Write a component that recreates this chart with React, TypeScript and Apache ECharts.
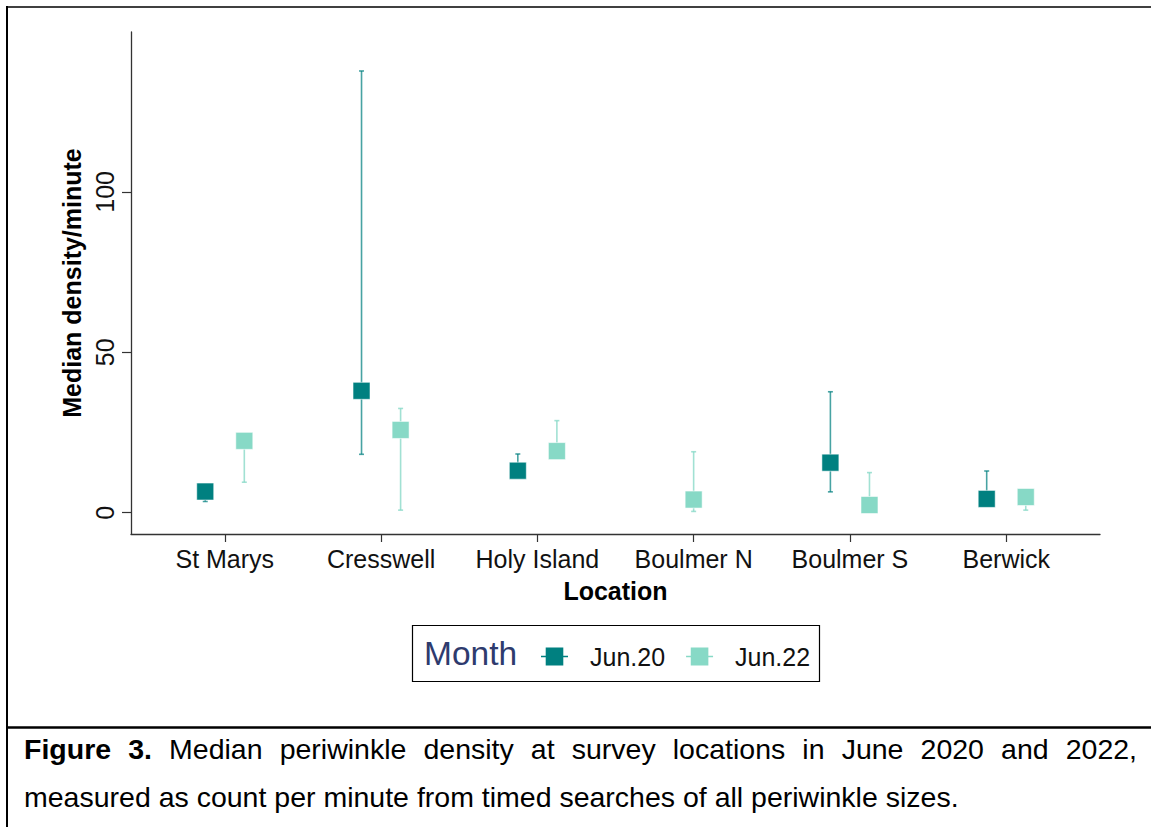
import React, { useEffect, useRef } from "react";
import * as echarts from "echarts";

// Survey locations along the x axis
const locations = ["St Marys", "Cresswell", "Holy Island", "Boulmer N", "Boulmer S", "Berwick"];
const months = ["Jun.20", "Jun.22"];

// Median density per minute with lower / upper interval (null = not surveyed)
const jun20Median = [6.6, 38.0, 13.1, null, 15.6, 4.3];
const jun20Lower = [3.5, 18.2, 11.8, null, 6.5, 3.2];
const jun20Upper = [8.0, 137.7, 18.3, null, 37.7, 13.0];
const jun22Median = [22.4, 25.8, 19.2, 4.1, 2.4, 4.9];
const jun22Lower = [9.5, 0.8, 18.0, 0.4, 0.6, 0.8];
const jun22Upper = [23.6, 32.5, 28.7, 19.0, 12.5, 6.0];

const yTicks = [0, 50, 100];

const CAPTION_BOLD = ["Figure", "3."];
const CAPTION_LINE1 =
  "Median periwinkle density at survey locations in June 2020 and 2022,";
const CAPTION_LINE2 =
  "measured as count per minute from timed searches of all periwinkle sizes.";

const FONT = "'Liberation Sans', Arial, Helvetica, sans-serif";
const COL20 = "#008080";
const COL22 = "#87d9c6";
const ERR20 = "rgba(0,128,128,0.72)";
const ERR22 = "rgba(135,217,198,0.78)";
const SQUARE = 17;
const DODGE = 0.125;
const CAP_HALF = 0.016;

const LEGEND_ICON =
  "path://M0,8.2 L4.7,8.2 L4.7,0 L22.3,0 L22.3,8.2 L27,8.2 L27,9.8 L22.3,9.8 L22.3,18 L4.7,18 L4.7,9.8 L0,9.8 Z";

function buildData(med: (number | null)[], lo: (number | null)[], hi: (number | null)[], side: number) {
  const rows: number[][] = [];
  med.forEach((m, i) => {
    if (m == null) return;
    const paired = jun20Median[i] != null && jun22Median[i] != null;
    const x = i + 1 + (paired ? side * DODGE : 0);
    rows.push([x, m, lo[i] as number, hi[i] as number]);
  });
  return rows;
}

function makeRender(fill: string, err: string) {
  return (params: any, api: any) => {
    const x = api.value(0);
    const med = api.value(1);
    const lo = api.value(2);
    const hi = api.value(3);
    const pMed = api.coord([x, med]);
    const pLo = api.coord([x, lo]);
    const pHi = api.coord([x, hi]);
    const xl = api.coord([x - CAP_HALF, lo])[0];
    const xr = api.coord([x + CAP_HALF, lo])[0];
    const stroke = { stroke: err, lineWidth: 1.6 };
    return {
      type: "group",
      children: [
        { type: "line", shape: { x1: pLo[0], y1: pLo[1], x2: pHi[0], y2: pHi[1] }, style: stroke },
        { type: "line", shape: { x1: xl, y1: pLo[1], x2: xr, y2: pLo[1] }, style: stroke },
        { type: "line", shape: { x1: xl, y1: pHi[1], x2: xr, y2: pHi[1] }, style: stroke },
        {
          type: "rect",
          shape: { x: pMed[0] - SQUARE / 2, y: pMed[1] - SQUARE / 2, width: SQUARE, height: SQUARE },
          style: { fill, stroke: "rgba(255,255,255,0.55)", lineWidth: 1 },
        },
      ],
    };
  };
}

function measure(text: string, font: string) {
  const c = document.createElement("canvas").getContext("2d")!;
  c.font = font;
  return c.measureText(text).width;
}

function captionGraphics() {
  const size = 28.5;
  const left = 24;
  const right = 1137;
  const y1 = 749;
  const y2 = 797;
  const words = [
    ...CAPTION_BOLD.map((w) => ({ w, bold: true })),
    ...CAPTION_LINE1.split(" ").map((w) => ({ w, bold: false })),
  ];
  const widths = words.map((o) =>
    measure(o.w, `${o.bold ? "bold " : ""}${size}px ${FONT}`)
  );
  const total = widths.reduce((a, b) => a + b, 0);
  const gap = (right - left - total) / (words.length - 1);
  let x = left;
  const out: any[] = [];
  words.forEach((o, i) => {
    out.push({
      type: "text",
      x,
      y: y1,
      style: {
        text: o.w,
        fontFamily: FONT,
        fontSize: size,
        fontWeight: o.bold ? "bold" : "normal",
        fill: "#000",
        verticalAlign: "middle",
      },
    });
    x += widths[i] + gap;
  });
  out.push({
    type: "text",
    x: left,
    y: y2,
    style: {
      text: CAPTION_LINE2,
      fontFamily: FONT,
      fontSize: size,
      fill: "#000",
      verticalAlign: "middle",
    },
  });
  return out;
}

export default function App() {
  const ref = useRef<HTMLDivElement>(null);

  useEffect(() => {
    document.body.style.margin = "0";
    const chart = echarts.init(ref.current!, null, { renderer: "svg" });
    const frame = { stroke: "#000" };
    chart.setOption({
      animation: false,
      backgroundColor: "#fff",
      grid: { left: 131, top: 32, width: 969, height: 502, containLabel: false },
      xAxis: {
        type: "value",
        min: 0.4,
        max: 6.6,
        splitLine: { show: false },
        axisLine: { show: true, onZero: false, lineStyle: { color: "#333", width: 1.3 } },
        axisTick: { show: true, length: 8, customValues: [1, 2, 3, 4, 5, 6], lineStyle: { color: "#333", width: 1.2 } },
        axisLabel: {
          customValues: [1, 2, 3, 4, 5, 6],
          formatter: (v: number) => locations[Math.round(v) - 1] ?? "",
          fontFamily: FONT,
          fontSize: 25,
          color: "#111",
          margin: 12,
        },
        name: "Location",
        nameLocation: "middle",
        nameGap: 44,
        nameTextStyle: { fontFamily: FONT, fontSize: 25, fontWeight: "bold", color: "#000" },
      },
      yAxis: {
        type: "value",
        min: -6.64,
        max: 149.85,
        splitLine: { show: false },
        axisLine: { show: true, onZero: false, lineStyle: { color: "#333", width: 1.3 } },
        axisTick: { show: true, length: 9, customValues: yTicks, lineStyle: { color: "#333", width: 1.2 } },
        axisLabel: {
          customValues: yTicks,
          rotate: 90,
          fontFamily: FONT,
          fontSize: 25,
          color: "#111",
          margin: 14,
          align: "center",
        },
        name: "Median density/minute",
        nameLocation: "middle",
        nameGap: 34,
        nameRotate: 90,
        nameTextStyle: { fontFamily: FONT, fontSize: 25, fontWeight: "bold", color: "#000" },
      },
      legend: {
        data: months,
        left: 541,
        top: 644,
        padding: 0,
        itemWidth: 27,
        itemHeight: 18,
        itemGap: 21,
        icon: LEGEND_ICON,
        textStyle: { fontFamily: FONT, fontSize: 25, color: "#111", padding: [0, 0, 0, 17] },
      },
      series: [
        {
          name: months[0],
          type: "custom",
          itemStyle: { color: COL20 },
          renderItem: makeRender(COL20, ERR20),
          encode: { x: 0, y: [1, 2, 3] },
          data: buildData(jun20Median, jun20Lower, jun20Upper, -1),
          z: 2,
        },
        {
          name: months[1],
          type: "custom",
          itemStyle: { color: COL22 },
          renderItem: makeRender(COL22, ERR22),
          encode: { x: 0, y: [1, 2, 3] },
          data: buildData(jun22Median, jun22Lower, jun22Upper, 1),
          z: 2,
        },
      ],
      graphic: [
        // page frame and caption divider
        { type: "line", shape: { x1: 6, y1: 7, x2: 1151, y2: 7 }, style: { ...frame, lineWidth: 1.4 } },
        { type: "line", shape: { x1: 7, y1: 6, x2: 7, y2: 827 }, style: { ...frame, lineWidth: 2 } },
        { type: "line", shape: { x1: 6, y1: 727.5, x2: 1151, y2: 727.5 }, style: { ...frame, lineWidth: 2.4 } },
        // legend box and title
        {
          type: "rect",
          shape: { x: 412.5, y: 625.5, width: 407, height: 56 },
          style: { fill: "none", stroke: "#000", lineWidth: 1.2 },
        },
        {
          type: "text",
          x: 424,
          y: 653,
          style: {
            text: "Month",
            fontFamily: FONT,
            fontSize: 33.5,
            fill: "#2e3b6e",
            verticalAlign: "middle",
          },
        },
        ...captionGraphics(),
      ],
    });
    return () => chart.dispose();
  }, []);

  return <div ref={ref} style={{ width: 1151, height: 827 }} />;
}
